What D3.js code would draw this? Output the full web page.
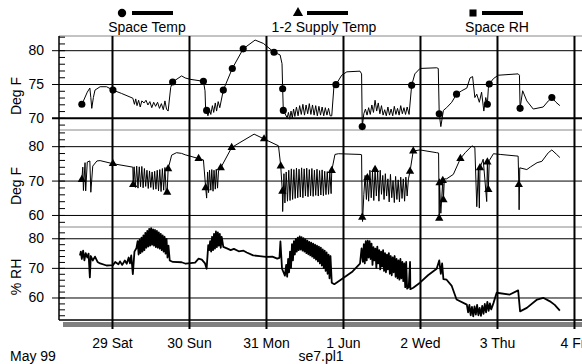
<!DOCTYPE html>
<html>
<head>
<meta charset="utf-8">
<script src="https://cdn.jsdelivr.net/npm/d3@7"></script>
<style>
  body { margin: 0; background: #fff; }
  text { font-family: "Liberation Sans", Arial, sans-serif; fill: #000; }
  .axis path.domain { display: none; }
</style>
</head>
<body>
<script>
// hours since 28 May 1999 00:00, value ; third item = marker drawn on that point
var spaceTemp = [
  [14.3,71.8],[14.6,72.0,1],[15.1,72.5],[16.3,73.8],[17.1,74.4],[17.4,73.0],[17.7,71.4],[18.2,73.0],[18.7,74.1],
  [20.3,74.6],[22.3,74.6],[24.3,74.1,1],[27.0,73.6],[30.5,72.9],
  [31.0,72.0],[31.4,72.8],[31.8,71.8],[32.3,72.6],[32.8,71.6],[33.3,72.5],[34.0,72.2],[34.6,72.6],[35.2,71.9],
  [35.8,72.4],[36.4,71.5],[37.0,72.3],[37.6,71.7],[38.2,72.3],[38.8,71.4],[39.4,72.1],[40.0,71.2],[40.5,72.5],
  [41.0,71.3],[41.5,71.0],
  [42.3,74.5],[42.9,75.3,1],[45.7,76.2],[46.8,75.9],[48.3,75.7],[52.5,75.4,1],[53.0,74.0],[53.2,71.0],[53.5,71.1,1],[53.9,70.3],
  [54.4,71.2],[54.8,70.5],[55.3,71.8],[55.7,70.8],[56.2,72.2],[56.6,71.0],[57.1,72.4],[57.6,71.5],
  [58.7,74.1,1],[61.5,77.3,1],[64.9,80.2,1],[68.6,81.5],[71.2,81.0],[74.5,79.7,1],[76.4,79.3],[77.0,78.0],
  [77.2,74.3,1],[77.4,71.1,1],[78.6,70.0],
  [79.0,70.8],[79.4,69.8],[79.8,71.0],[80.2,70.0],[80.6,71.3],[81.0,70.2],[81.5,71.6],[82.0,70.3],[82.5,71.8],
  [83.0,70.5],[83.5,72.0],[84.0,70.4],[84.5,71.9],[85.0,70.6],[85.5,72.1],[86.0,70.5],[86.5,71.9],[87.0,70.4],
  [87.5,71.8],[88.0,70.3],[88.5,71.7],[89.0,70.4],[89.5,71.6],[90.0,70.3],[90.5,71.5],[91.0,70.4],[91.5,71.4],
  [92.0,70.3],[92.5,70.3],
  [93.2,74.8],[93.8,74.9,1],[95.6,76.3],[97.2,76.8],[101.3,76.9],[101.8,76.5],[102.0,68.7,1],
  [102.5,70.6],[103.0,71.3],[103.5,70.4],[104.0,71.5],[104.5,70.5],[105.0,71.9],[105.5,70.8],[106.0,72.6],
  [106.5,71.0],[107.0,72.2],[107.5,70.6],[108.0,71.8],[108.5,70.4],[109.0,71.2],[109.5,70.3],[110.0,71.6],
  [110.5,70.4],[111.0,71.3],[111.5,70.3],[112.0,71.7],[112.5,70.5],[113.0,71.4],[113.5,70.4],[114.0,71.8],
  [114.5,70.6],[115.0,71.5],[115.5,70.5],[116.0,71.6],[116.6,70.5],
  [117.4,74.8,1],[118.4,76.5],[120.0,77.3],[125.2,77.4],[125.7,77.3],[126.0,70.6,1],[126.5,68.7],[127.3,71.1],
  [128.3,71.5],[129.9,72.3],[131.4,73.5,1],[133.0,74.0],[134.6,74.4],[135.6,75.9],[136.4,76.1],[137.1,73.0],
  [137.7,73.5],[138.5,72.3],[139.2,73.8],[139.9,71.0],[140.5,73.0],[141.0,72.0,1],[141.3,74.3],[141.6,75.0,1],
  [142.9,75.8],[144.4,76.3],[150.6,76.5],[151.0,76.3],[151.2,71.4,1],[152.0,74.0],[153.3,72.5],[155.3,71.3],
  [158.4,71.6],[160.0,72.5],[161.1,73.0,1],[162.4,72.3],[163.6,71.8]
];

var supplyTemp = [
  [14.3,70.0],[14.6,70.3,1],[14.9,73.9],[15.1,67.1],[15.6,75.2],[15.8,67.0],[16.3,75.4],[17.1,75.7],[17.4,66.6],
  [18.0,74.2],[19.3,75.7],[20.3,75.8],[24.3,74.9,1],[30.5,73.9],
  [30.6,68.8,1],[30.9,74.0],[31.3,68.0],[31.7,74.2],[32.1,67.8],[32.5,74.0],[32.9,68.2],[33.3,74.1],[33.7,67.9],
  [34.1,73.5],[34.5,68.3],[34.9,73.0],[35.3,67.7],[35.7,72.8],[36.1,68.0],[36.5,72.5],[36.9,67.4],[37.3,72.7],
  [37.7,67.5],[38.1,73.0],[38.5,67.0],[38.9,73.2],[39.3,66.8],[39.7,73.5],[40.1,67.2],[40.5,73.8],[40.9,66.6],
  [41.2,66.6,1],[41.5,73.4,1],
  [42.6,77.4],[44.1,78.1],[45.7,77.9],[46.8,77.5],[51.0,76.4,1],[52.5,76.0],[53.2,67.9,1],[53.5,64.9],
  [53.8,72.5],[54.1,66.5],[54.4,73.0],[54.8,67.2],[55.1,73.2],[55.5,66.9],[55.8,73.0],[56.2,67.5],[56.5,73.3],
  [56.9,67.8],[57.2,72.8],
  [57.9,73.7,1],[61.3,79.6,1],[63.6,80.9],[68.3,83.5],[71.4,82.1,1],[75.9,80.1],[76.6,74.2,1],[77.1,66.9,1],[77.2,61.0],
  [77.6,72.0],[77.9,63.5],[78.3,72.5],[78.7,64.0],[79.1,73.0],[79.5,64.2],[79.9,73.4],[80.3,64.5],[80.7,73.2],
  [81.1,64.8],[81.5,73.6],[81.9,65.0],[82.3,73.3],[82.7,65.2],[83.1,73.7],[83.5,65.0],[83.9,73.4],[84.3,65.5],
  [84.7,73.6],[85.1,65.3],[85.5,73.2],[85.9,65.6],[86.3,73.5],[86.7,65.4],[87.1,73.0],[87.5,65.7],[87.9,73.3],
  [88.3,65.5],[88.7,72.9],[89.1,65.8],[89.5,73.1],[89.9,65.6],[90.3,72.7],[90.7,65.9],[91.1,72.6],[91.5,66.0],
  [91.9,72.4],[92.3,66.2],[92.5,72.9,1],
  [93.5,77.6],[94.6,77.8],[101.3,77.6],[101.8,77.5],[102.0,59.3,1],[102.1,58.1],
  [102.5,66.0],[102.9,71.5],[103.3,64.5],[103.6,70.8,1],[104.0,64.0],[104.4,73.0],[104.8,65.0],[105.2,72.5],
  [105.6,64.2],[106.0,73.2,1],[106.4,65.5],[106.8,72.8],[107.2,64.0],[107.6,73.0],[108.0,66.0],[108.4,71.5],
  [108.8,64.5],[109.2,72.0],[109.6,65.5],[110.0,70.5],[110.4,63.8],[110.8,71.8],[111.2,65.0],[111.6,70.0],
  [112.0,63.6],[112.4,71.2],[112.8,64.5],[113.2,70.2],[113.6,63.8],[114.0,71.0],[114.4,64.8],[114.8,70.5],
  [115.2,64.0],[115.6,71.0],[116.0,65.5],[116.4,70.5],[116.9,72.7,1],
  [117.9,78.6,1],[120.0,78.9],[125.2,78.1],[125.8,78.0],[126.0,59.0,1],[126.1,69.3,1],[126.5,60.5],[127.1,70.0,1],
  [127.3,64.4,1],[127.6,70.5],[128.3,70.5],[130.4,71.8],[132.6,76.4,1],[134.1,78.1],[136.2,80.1],[137.1,79.6],
  [137.7,62.4],[138.2,73.2],[138.5,62.0],[138.7,73.7,1],[139.7,76.2],[140.8,63.9],[141.0,75.4,1],[141.3,67.4,1],
  [141.6,75.8],[142.9,77.8],[145.0,77.6],[150.6,77.1],[150.8,68.8,1],[150.9,61.5],[151.1,73.7],[153.3,73.2],
  [154.5,74.0],[156.5,75.2],[158.0,75.6],[160.0,78.1],[161.1,78.9],[162.6,77.6],[163.6,76.7]
];

var spaceRH = [
  [14.0,74.2],[14.3,75.5],[14.6,73.0],[15.0,75.8],[15.4,72.5],[15.8,75.0],[16.3,73.5],[16.7,74.8],[17.1,66.8],
  [17.4,74.0],[18.0,72.5],[18.7,73.8],[19.5,72.0],[20.3,71.5],[22.3,70.8],[24.3,70.9],[25.0,72.0],[26.0,71.2],
  [26.5,72.2],[27.2,71.0],[28.0,72.5],[28.6,71.4],[29.2,73.5],[29.6,71.5],[30.0,74.2],[30.5,67.9],[31.0,75.5],
  [31.6,76.6],
  [32.0,79.0],[32.3,74.5],[32.6,79.5],[32.9,75.0],[33.2,80.2],[33.5,75.5],[33.8,81.0],[34.1,76.0],[34.4,81.8],
  [34.7,76.8],[35.0,82.5],[35.3,77.2],[35.6,83.2],[35.9,77.5],[36.2,83.4],[36.5,77.8],[36.8,83.0],[37.1,77.5],
  [37.4,82.8],[37.7,77.0],[38.0,82.5],[38.3,76.8],[38.6,82.0],[38.9,76.5],[39.2,81.5],[39.5,76.0],[39.8,81.0],
  [40.1,75.5],[40.4,80.5],[40.7,74.8],[41.0,79.8],[41.3,73.5],[41.6,77.5],[42.0,72.5],
  [43.0,72.0],[45.7,71.9],[47.0,71.4],[49.9,71.8],[51.0,73.1],[52.0,72.8],[53.0,71.5],[53.5,69.7],[54.0,77.7],
  [54.3,76.0],[54.6,79.0],[54.9,75.5],[55.2,80.5],[55.5,76.0],[55.8,81.5],[56.1,76.5],[56.4,82.3],[56.7,77.0],
  [57.0,82.0],[57.3,77.5],[57.6,81.5],[57.9,76.8],[58.2,80.5],
  [58.7,77.1],[60.0,76.5],[61.0,76.0],[62.0,76.4],[63.5,75.6],[65.0,75.8],[66.0,75.2],[68.0,74.2],[70.0,74.0],
  [72.0,73.7],[74.0,73.8],[75.5,73.1],[76.2,73.4],[76.5,78.9],[77.0,69.7],[77.9,67.4],
  [78.3,71.0],[78.6,67.0],[78.9,73.0],[79.2,68.5],[79.5,75.5],[79.8,70.0],[80.1,78.0],[80.4,72.5],[80.7,79.0],
  [81.0,74.5],[81.3,79.8],[81.6,75.5],[81.9,80.2],[82.2,76.0],[82.5,80.6],[82.8,76.2],[83.1,80.4],[83.4,75.8],
  [83.7,80.0],[84.0,75.5],[84.3,79.6],[84.6,75.0],[84.9,79.2],[85.2,74.6],[85.5,78.8],[85.8,74.2],[86.1,78.5],
  [86.4,73.8],[86.7,78.2],[87.0,73.3],[87.3,77.8],[87.6,72.8],[87.9,77.5],[88.2,72.2],[88.5,77.2],[88.8,71.5],
  [89.1,76.8],[89.4,70.8],[89.7,76.2],[90.0,70.0],[90.3,75.8],[90.6,69.0],[90.9,75.2],[91.2,68.0],[91.5,74.5],
  [91.8,66.5],[92.1,74.0],[92.5,65.0],
  [93.3,64.5],[96.0,66.5],[99.0,68.8],[101.3,71.4],[101.8,76.6],
  [102.2,72.0],[102.5,78.0],[102.8,71.5],[103.1,79.0],[103.4,72.5],[103.7,79.2],[104.0,73.5],[104.3,79.0],
  [104.6,73.0],[104.9,78.2],[105.2,71.0],[105.5,77.0],[105.8,72.5],[106.1,76.5],[106.4,70.0],[106.7,77.2],
  [107.0,71.5],[107.3,76.0],[107.6,69.5],[107.9,75.5],[108.2,70.5],[108.5,76.0],[108.8,69.0],[109.1,75.0],
  [109.4,68.5],[109.7,74.5],[110.0,69.5],[110.3,75.0],[110.6,68.0],[110.9,74.0],[111.2,67.5],[111.5,73.5],
  [111.8,68.5],[112.1,74.0],[112.4,67.0],[112.7,73.0],[113.0,66.5],[113.3,72.5],[113.6,66.0],[113.9,73.0],
  [114.2,66.5],[114.5,72.0],[114.8,65.5],[115.1,71.5],[115.4,63.5],[115.7,72.0],[116.0,63.0],[116.5,63.5],
  [116.9,72.0],[117.0,62.8],[117.9,63.3],[120.0,65.0],[122.5,67.5],[125.2,69.7],[126.0,72.5],[126.5,68.0],
  [126.9,71.5],[127.3,66.2],[128.3,66.0],[129.9,63.9],[131.4,59.3],[134.6,57.6],
  [135.0,55.0],[135.4,57.5],[135.8,54.0],[136.2,56.8],[136.6,53.6],[137.0,57.0],[137.4,54.2],[137.8,57.5],
  [138.2,54.0],[138.6,56.5],[139.0,53.8],[139.4,57.2],[139.8,54.5],[140.2,57.8],[140.6,55.0],[141.0,58.5],
  [141.4,55.5],[141.8,58.0],[142.2,56.0],[142.9,58.1],
  [143.9,61.6],[148.0,61.0],[150.6,62.4],[151.2,55.3],[153.3,56.5],[156.5,59.3],[158.4,59.9],[160.5,58.7],
  [162.0,57.5],[163.6,55.6]
];

var seriesNames = ["Space Temp", "1-2 Supply Temp", "Space RH"];
var dayLabels = ["29 Sat", "30 Sun", "31 Mon", "1 Jun", "2 Wed", "3 Thu", "4 Fri"];
var panelTitles = ["Deg F", "Deg F", "% RH"];
var majorTicks = [[70, 75, 80], [60, 70, 80], [60, 70, 80]];

var W = 582, H = 364;
var plotL = 59, plotR = 582, plotT = 36, plotB = 320;
var fontSize = "14px";

var base = Date.UTC(1999, 4, 28);
function toDate(h) { return new Date(base + h * 3600e3); }

var x = d3.scaleUtc()
  .domain([toDate(7.483), toDate(170.5)])
  .range([plotL, plotR]);

var svg = d3.select("body").append("svg")
  .attr("width", W)
  .attr("height", H);

// panels: pixel band + value domain
var panels = [
  { data: spaceTemp, domain: [68.2, 82.1], y0: 130, y1: plotT, minorStep: 1, sym: d3.symbolCircle, size: 40, width: 1, titleY: 96 },
  { data: supplyTemp, domain: [56.5, 84.7], y0: 227, y1: 130, minorStep: 2, sym: d3.symbolTriangle, size: 30, width: 1, titleY: 186 },
  { data: spaceRH, domain: [52.4, 83.8], y0: plotB, y1: 227, minorStep: 2, sym: d3.symbolSquare, size: 36, width: 1.8, titleY: 277 }
];

// shadow under plot
svg.append("rect")
  .attr("x", plotL + 4).attr("y", plotB + 2)
  .attr("width", plotR - plotL - 4).attr("height", 5)
  .attr("fill", "#808080");

// top border + separators
[plotT, 130, 227].forEach(function (yy) {
  svg.append("line")
    .attr("x1", plotL).attr("x2", plotR)
    .attr("y1", yy).attr("y2", yy)
    .attr("stroke", "#888").attr("stroke-width", 1);
});

panels.forEach(function (p, i) {
  var y = d3.scaleLinear().domain(p.domain).range([p.y0, p.y1]);
  var minor = d3.range(Math.ceil(p.domain[0]), p.domain[1], 1).filter(function (v) { return v % p.minorStep === 0; });

  svg.append("g")
    .attr("class", "axis")
    .attr("transform", "translate(" + plotL + ",0)")
    .call(d3.axisLeft(y).tickValues(minor).tickSize(-6).tickFormat(""))
    .selectAll("line").attr("stroke", "#000");

  var g = svg.append("g")
    .attr("class", "axis")
    .attr("transform", "translate(52,0)")
    .call(d3.axisLeft(y).tickValues(majorTicks[i]).tickSize(-(plotR - 52)).tickPadding(8));
  g.selectAll("line").attr("stroke", "#000")
    .attr("stroke-width", function (d) { return (i === 0 && d === 70) ? 2 : 1; });
  g.selectAll("text").style("font-size", fontSize).style("font-family", "Liberation Sans, Arial, sans-serif");

  svg.append("text")
    .attr("transform", "translate(21," + p.titleY + ") rotate(-90)")
    .attr("text-anchor", "middle")
    .style("font-size", fontSize)
    .text(panelTitles[i]);

  var line = d3.line()
    .x(function (d) { return x(toDate(d[0])); })
    .y(function (d) { return y(d[1]); });

  svg.append("path")
    .datum(p.data)
    .attr("d", line)
    .attr("fill", "none")
    .attr("stroke", "#000")
    .attr("stroke-width", p.width)
    .attr("stroke-linejoin", "round");

  svg.selectAll(".mk" + i)
    .data(p.data.filter(function (d) { return d[2]; }))
    .enter().append("path")
    .attr("class", "mk" + i)
    .attr("d", d3.symbol(p.sym, p.size))
    .attr("transform", function (d) { return "translate(" + x(toDate(d[0])) + "," + y(d[1]) + ")"; })
    .attr("fill", "#000");
});

// left axis line and bottom axis line
svg.append("line").attr("x1", plotL).attr("x2", plotL).attr("y1", plotT).attr("y2", plotB).attr("stroke", "#000").attr("stroke-width", 1.5);
svg.append("line").attr("x1", plotL).attr("x2", plotR).attr("y1", plotB).attr("y2", plotB).attr("stroke", "#000").attr("stroke-width", 1.5);

// day lines + labels
var days = dayLabels.map(function (d, i) { return toDate(24 * (i + 1)); });
var xa = svg.append("g")
  .attr("class", "axis")
  .attr("transform", "translate(0,329)")
  .call(d3.axisBottom(x).tickValues(days).tickSize(-(329 - plotT)).tickPadding(9)
    .tickFormat(function (d, i) { return dayLabels[i]; }));
xa.selectAll("line").attr("stroke", "#000").attr("stroke-width", 2);
xa.selectAll("text").style("font-size", fontSize).style("font-family", "Liberation Sans, Arial, sans-serif");

svg.append("text").attr("x", 10).attr("y", 361).style("font-size", fontSize).text("May 99");
svg.append("text").attr("x", 321).attr("y", 361).attr("text-anchor", "middle").style("font-size", fontSize).text("se7.pl1");

// legend
var legend = [
  { sym: d3.symbolCircle, size: 55, mx: 122, lx: 132, tx: 147 },
  { sym: d3.symbolTriangle, size: 45, mx: 298, lx: 307, tx: 324 },
  { sym: d3.symbolSquare, size: 50, mx: 473, lx: 482, tx: 497 }
];
legend.forEach(function (l, i) {
  svg.append("path")
    .attr("d", d3.symbol(l.sym, l.size))
    .attr("transform", "translate(" + l.mx + ",13)")
    .attr("fill", "#000");
  svg.append("line")
    .attr("x1", l.lx).attr("x2", l.lx + 41)
    .attr("y1", 13).attr("y2", 13)
    .attr("stroke", "#000").attr("stroke-width", 4);
  svg.append("text")
    .attr("x", l.tx).attr("y", 32)
    .attr("text-anchor", "middle")
    .style("font-size", fontSize)
    .text(seriesNames[i]);
});
</script>
</body>
</html>
